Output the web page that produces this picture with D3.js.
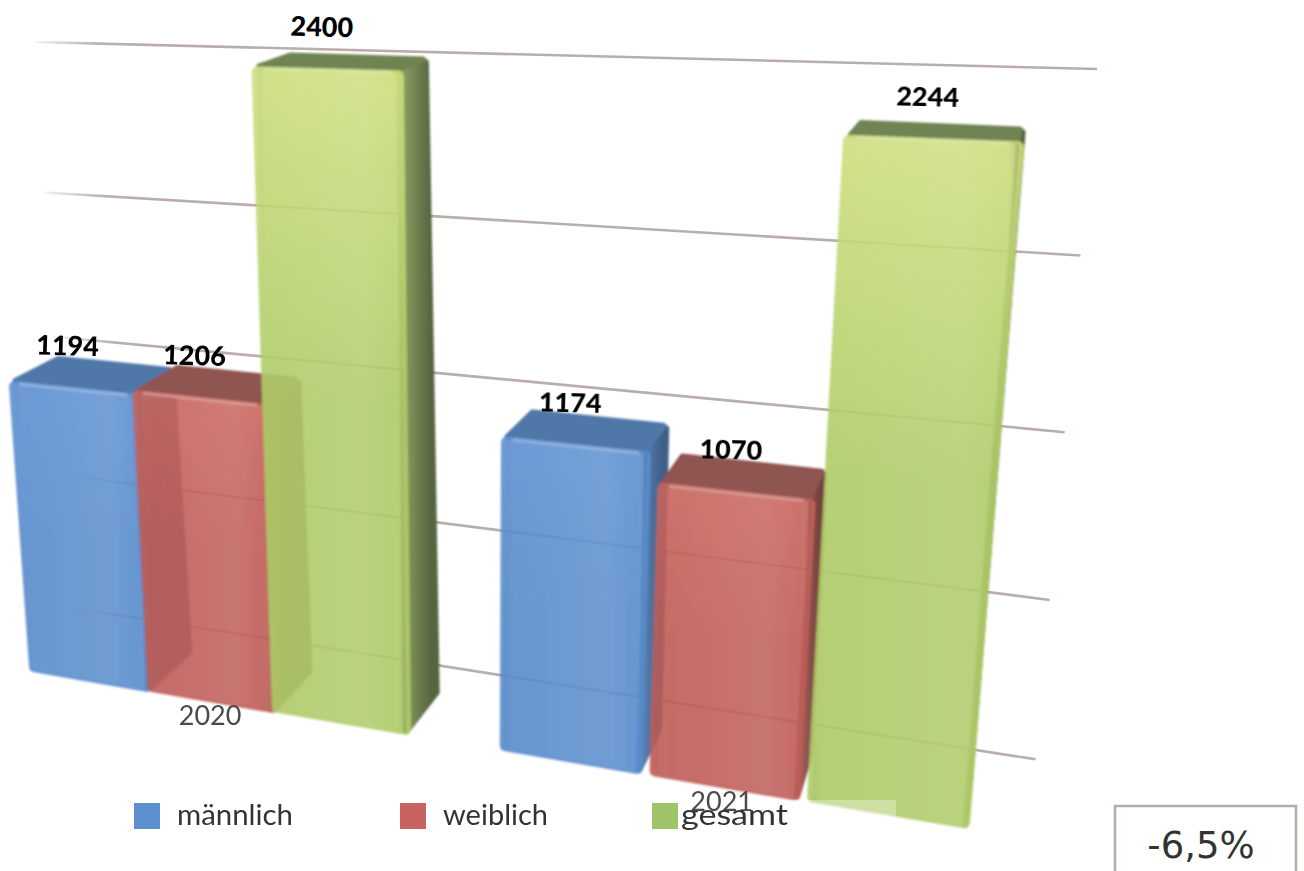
<!DOCTYPE html>
<html lang="de">

<head>
    <meta charset="UTF-8">
    <title>Mitglieder</title>
    <script src="https://d3js.org/d3.v7.min.js"></script>
    <style>
        body { margin: 0; background: #fff; }
        svg { display: block; }
        text { font-family: Lato, "Liberation Sans", sans-serif; }
    </style>
</head>

<body>
    <svg id="plot" width="1304" height="871"></svg>

<script>
    // data
    const years = ["2020", "2021"];
    const series = ["männlich", "weiblich", "gesamt"];
    const maleValues = [1194, 1174];
    const femaleValues = [1206, 1070];
    const totalValues = [2400, 2244];
    const seriesValues = [maleValues, femaleValues, totalValues];
    const gridMax = 2500;
    const changeLabel = "-6,5%";

    const frontColors = ["#578bcc", "#bf5b56", "#aecb67"];
    const frontTopColors = ["#5c90d2", "#c8645c", "#cddf7d"];
    const topColors = ["#4f78a8", "#8e5451", "#6f8452"];
    const sideLightColors = ["#5f86b8", "#a56560", "#93a565"];
    const sideColors = ["#3f5f88", "#74403d", "#566540"];
    const legendColors = ["#5b8fcf", "#c8625e", "#9fc468"];
    const legendWidths = [116, 105, 107];

    // maps a square (u along the floor, v up the bars) on to a quad in the picture
    // corners are given as floor left, floor right, top right, top left
    function quadProjection(c) {
        const dx1 = c[1][0] - c[2][0], dx2 = c[3][0] - c[2][0], sx = c[0][0] - c[1][0] + c[2][0] - c[3][0];
        const dy1 = c[1][1] - c[2][1], dy2 = c[3][1] - c[2][1], sy = c[0][1] - c[1][1] + c[2][1] - c[3][1];
        const den = dx1 * dy2 - dx2 * dy1;
        const g = (sx * dy2 - dx2 * sy) / den;
        const h = (dx1 * sy - sx * dy1) / den;
        const a = c[1][0] - c[0][0] + g * c[1][0], b = c[3][0] - c[0][0] + h * c[3][0];
        const d = c[1][1] - c[0][1] + g * c[1][1], e = c[3][1] - c[0][1] + h * c[3][1];
        return function (u, v) {
            const w = g * u + h * v + 1;
            return [(a * u + b * v + c[0][0]) / w, (d * u + e * v + c[0][1]) / w];
        };
    }

    const front = quadProjection([[33, 672], [965, 828], [1024, 88], [-10, 59]]);
    const back = quadProjection([[78, 636], [970, 783], [1027, 78], [30, 47]]);
    const wall = quadProjection([[79, 735], [1022, 911], [1097, 69], [35, 42]]);

    const x0 = d3.scaleBand().domain(years).range([0, 1]).paddingInner(0.19);
    // the bars of the second group stand further apart
    const x1ByYear = {
        "2020": d3.scaleBand().domain(series).range([0, x0.bandwidth()]).paddingInner(0.02),
        "2021": d3.scaleBand().domain(series).range([0, x0.bandwidth()]).paddingInner(0.09)
    };
    const y = d3.scaleLinear().domain([0, 2400]).range([0, 1]);
    const yWall = d3.scaleLinear().domain([0, gridMax]).range([0, 1]);

    const svg = d3.select("#plot");
    const defs = svg.append("defs");

    defs.append("filter").attr("id", "soft")
        .append("feGaussianBlur").attr("stdDeviation", 0.9);

    const fade = defs.append("linearGradient").attr("id", "gridFade");
    fade.append("stop").attr("offset", 0).attr("stop-color", "#b9aeaa").attr("stop-opacity", 0.15);
    fade.append("stop").attr("offset", 0.06).attr("stop-color", "#b9aeaa");
    fade.append("stop").attr("offset", 1).attr("stop-color", "#b9aeaa");

    series.forEach(function (s, i) {
        const g = defs.append("linearGradient").attr("id", "front" + i)
            .attr("x1", 0).attr("y1", 0).attr("x2", 0).attr("y2", 1);
        g.append("stop").attr("offset", 0).attr("stop-color", frontTopColors[i]);
        g.append("stop").attr("offset", 0.5).attr("stop-color", frontColors[i]);
        g.append("stop").attr("offset", 1).attr("stop-color", frontColors[i]);

        const sg = defs.append("linearGradient").attr("id", "side" + i);
        sg.append("stop").attr("offset", 0).attr("stop-color", sideLightColors[i]);
        sg.append("stop").attr("offset", 0.85).attr("stop-color", sideColors[i]);
    });

    // light band right of the middle, darker at both edges
    const sheen = defs.append("linearGradient").attr("id", "sheen");
    sheen.append("stop").attr("offset", 0).attr("stop-color", "#000").attr("stop-opacity", 0.05);
    sheen.append("stop").attr("offset", 0.1).attr("stop-color", "#fff").attr("stop-opacity", 0);
    sheen.append("stop").attr("offset", 0.72).attr("stop-color", "#fff").attr("stop-opacity", 0.07);
    sheen.append("stop").attr("offset", 0.93).attr("stop-color", "#fff").attr("stop-opacity", 0);
    sheen.append("stop").attr("offset", 1).attr("stop-color", "#000").attr("stop-opacity", 0.18);

    const line = d3.line().curve(d3.curveLinearClosed);

    // pulls a polygon in, the round stroke puts the size back and rounds the corners
    function inset(points, by) {
        const c = d3.polygonCentroid(points);
        return points.map(function (p) {
            const dx = p[0] - c[0], dy = p[1] - c[1];
            const len = Math.sqrt(dx * dx + dy * dy);
            return [p[0] - dx / len * by, p[1] - dy / len * by];
        });
    }

    // gridlines on the back wall
    svg.append("g").selectAll("line")
        .data(yWall.ticks(5).filter(function (d) { return d > 0; }))
        .join("line")
        .each(function (d) {
            const a = wall(0, yWall(d)), b = wall(1, yWall(d));
            d3.select(this).attr("x1", a[0]).attr("y1", a[1]).attr("x2", b[0]).attr("y2", b[1]);
        })
        .attr("stroke", "url(#gridFade)")
        .attr("stroke-width", 2.6);

    // bars, left to right so the side of one shows through the front of the next
    const bars = [];
    years.forEach(function (year, yi) {
        const x1 = x1ByYear[year];
        series.forEach(function (s, si) {
            const u0 = x0(year) + x1(s);
            const u1 = u0 + x1.bandwidth();
            bars.push({ year: year, si: si, value: seriesValues[si][yi], u0: u0, u1: u1 });
        });
    });

    const barLayer = svg.append("g").attr("filter", "url(#soft)");
    bars.forEach(function (d) {
        const v = y(d.value);
        const g = barLayer.append("g");

        const side = [front(d.u1, 0), back(d.u1, 0), back(d.u1, v), front(d.u1, v)];
        g.append("path").attr("d", line(inset(side, 3)))
            .attr("fill", "url(#side" + d.si + ")").attr("stroke", "url(#side" + d.si + ")")
            .attr("stroke-width", 6).attr("stroke-linejoin", "round");

        const top = [front(d.u0, v), front(d.u1, v), back(d.u1, v), back(d.u0, v)];
        g.append("path").attr("d", line(inset(top, 3)))
            .attr("fill", topColors[d.si]).attr("stroke", topColors[d.si])
            .attr("stroke-width", 6).attr("stroke-linejoin", "round");

        const face = [front(d.u0, 0), front(d.u1, 0), front(d.u1, v), front(d.u0, v)];
        const faceGroup = g.append("g").attr("opacity", 0.9);
        faceGroup.append("path").attr("d", line(inset(face, 6)))
            .attr("fill", "url(#front" + d.si + ")").attr("stroke", "url(#front" + d.si + ")")
            .attr("stroke-width", 12).attr("stroke-linejoin", "round");
        faceGroup.append("path").attr("d", line(inset(face, 2)))
            .attr("fill", "url(#sheen)");

        // bright bevel along the upper edge
        const a = front(d.u0 + 0.008, v), b = front(d.u1 - 0.008, v);
        g.append("line").attr("x1", a[0]).attr("y1", a[1] + 2).attr("x2", b[0]).attr("y2", b[1] + 2)
            .attr("stroke", "#fff").attr("stroke-opacity", 0.28).attr("stroke-width", 3);
    });

    // value labels above the front edge
    svg.append("g").selectAll("text")
        .data(bars)
        .join("text")
        .attr("transform", function (d) {
            const p = front((d.u0 + d.u1) / 2, y(d.value));
            return "translate(" + (p[0] - 5) + "," + (p[1] - 32) + ") rotate(1.5)";
        })
        .attr("text-anchor", "middle")
        .attr("font-size", 27)
        .attr("font-weight", 900)
        .attr("fill", "#000")
        .text(function (d) { return d.value; });

    // legend background, only shows where it lies on the last bar
    svg.append("rect").attr("x", 130).attr("y", 800).attr("width", 766).attr("height", 29)
        .attr("fill", "#fff").attr("opacity", 0.32);

    // year labels under each group
    svg.append("g").selectAll("text")
        .data(years)
        .join("text")
        .attr("transform", function (d) {
            const p = front(x0(d) + x0.bandwidth() / 2, 0);
            return "translate(" + (p[0] - 2) + "," + (p[1] + 23) + ")";
        })
        .attr("text-anchor", "middle")
        .attr("font-size", 27)
        .attr("fill", "#4a4a4a")
        .text(function (d) { return d; });

    // legend
    const legendX = d3.scaleOrdinal().domain(series).range([134, 400, 652]);
    const legend = svg.append("g").selectAll("g")
        .data(series)
        .join("g")
        .attr("transform", function (d) { return "translate(" + legendX(d) + ",803)"; });
    legend.append("rect")
        .attr("width", 26).attr("height", 26)
        .attr("fill", function (d, i) { return legendColors[i]; });
    legend.append("text")
        .attr("x", function (d, i) { return i === 2 ? 29 : 43; })
        .attr("y", 22)
        .attr("font-size", 29)
        .attr("textLength", function (d, i) { return legendWidths[i]; })
        .attr("lengthAdjust", "spacingAndGlyphs")
        .attr("fill", "#333")
        .text(function (d) { return d; });

    // change box, its lower edge is cut by the picture
    svg.append("path")
        .attr("d", "M1115,871V806H1296V871")
        .attr("fill", "none")
        .attr("stroke", "#b5aca8")
        .attr("stroke-width", 2.5);
    svg.append("text")
        .attr("x", 1201).attr("y", 858)
        .attr("text-anchor", "middle")
        .attr("font-size", 37)
        .style("font-family", "'DejaVu Sans', sans-serif")
        .attr("fill", "#333")
        .text(changeLabel);
</script>
</body>

</html>
